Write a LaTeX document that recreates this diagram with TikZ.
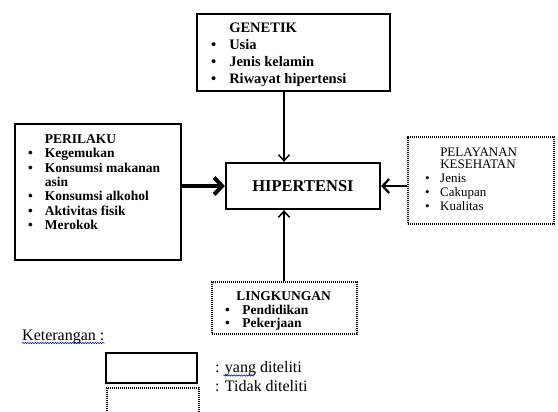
\documentclass[tikz,border=0pt]{standalone}
\usepackage{fontspec}
\setmainfont{Liberation Serif}
\usetikzlibrary{arrows.meta,decorations.pathmorphing}

\begin{document}
\begin{tikzpicture}[x=1pt,y=-1pt,
    solidbox/.style={draw, line width=1.5pt, inner sep=0pt},
    dotbox/.style={draw, line width=1.4pt, dash pattern=on 1.1pt off 0.9pt, inner sep=0pt},
    list/.style={anchor=base west, inner sep=0pt},
    arr/.style={line width=1.5pt, -{Straight Barb[length=6pt,width=11pt]}},
    squiggle/.style={blue!70!black, line width=0.5pt, decorate, decoration={snake, amplitude=0.7pt, segment length=2.5pt}}
  ]
  \useasboundingbox[fill=white] (0,0) rectangle (558,412);
  \clip (0,0) rectangle (558,412);
  \coordinate (axis) at (284,0);
  % boxes
  \node[solidbox, minimum width=193pt, minimum height=77pt] (genetik) at (293.5,52.5) {};
  \node[solidbox, minimum width=166pt, minimum height=136pt] (perilaku) at (98,192) {};
  \node[solidbox, line width=2.3pt, minimum width=154pt, minimum height=46pt,
    font=\fontsize{16.5}{18}\selectfont\bfseries] (hip) at (303,186) {HIPERTENSI};
  \node[dotbox, minimum width=146pt, minimum height=87pt] (pelayanan) at (481,180.5) {};
  \node[dotbox, minimum width=145pt, minimum height=52pt] (lingkungan) at (284.5,308) {};
  % lists
  \node[list, font=\fontsize{14.5}{17}\selectfont\bfseries] (genetiktxt) at (211,33) {%
    \begin{tabular}[t]{@{}l@{\hspace{13pt}}l@{}}
      & GENETIK\\
      \textbullet & Usia\\
      \textbullet & Jenis kelamin\\
      \textbullet & Riwayat hipertensi
    \end{tabular}};
  \node[list, font=\fontsize{13.5}{14.5}\selectfont\bfseries] (perilakutxt) at (28,143) {%
    \begin{tabular}[t]{@{}l@{\hspace{12pt}}l@{}}
      & PERILAKU\\
      \textbullet & Kegemukan\\
      \textbullet & Konsumsi makanan\\
      & asin\\
      \textbullet & Konsumsi alkohol\\
      \textbullet & Aktivitas fisik\\
      \textbullet & Merokok
    \end{tabular}};
  \node[list, font=\fontsize{13}{14}\selectfont] (pelayanantxt) at (425,157) {%
    \begin{tabular}[t]{@{}l@{\hspace{10.5pt}}l@{}}
      & PELAYANAN\\[-2pt]
      & KESEHATAN\\
      \textbullet & Jenis\\
      \textbullet & Cakupan\\
      \textbullet & Kualitas
    \end{tabular}};
  \node[list, font=\fontsize{13.5}{14}\selectfont\bfseries] (lingkungantxt) at (225,300) {%
    \begin{tabular}[t]{@{}l@{\hspace{12.5pt}}l@{}}
      & \hspace*{-6pt}LINGKUNGAN\\
      \textbullet & Pendidikan\\
      \textbullet & Pekerjaan
    \end{tabular}};
  % arrows
  \draw[arr] (genetik.south -| axis) -- (hip.north -| axis);
  \draw[arr] (lingkungan.north -| axis) -- (hip.south -| axis);
  \draw[line width=4pt, -{Straight Barb[length=8pt,width=17pt]}] (perilaku.east |- hip.west) -- (hip.west);
  \draw[line width=2.2pt, -{Straight Barb[length=6.5pt,width=14pt]}] (pelayanan.west |- hip.east) -- (hip.east);
  % legend
  \node[list, font=\fontsize{16}{17}\selectfont] (ket) at (22,340) {Keterangan :};
  \draw[squiggle] ([yshift=-3pt]ket.base west) -- ([yshift=-3pt]ket.base east);
  \node[solidbox, line width=2.4pt, minimum width=91pt, minimum height=30pt] (yes) at (151.5,368) {};
  \node[dotbox, minimum width=92pt, minimum height=42pt] (no) at (153,409) {};
  \node[list, font=\fontsize{16}{17}\selectfont] (yestxt) at (215,372) {: yang diteliti};
  \node[list, font=\fontsize{16}{17}\selectfont] (notxt) at (215,391) {: Tidak diteliti};
  \draw[squiggle] ([xshift=8.4pt,yshift=-3.5pt]yestxt.base west) -- ++(31,0);
\end{tikzpicture}
\end{document}
